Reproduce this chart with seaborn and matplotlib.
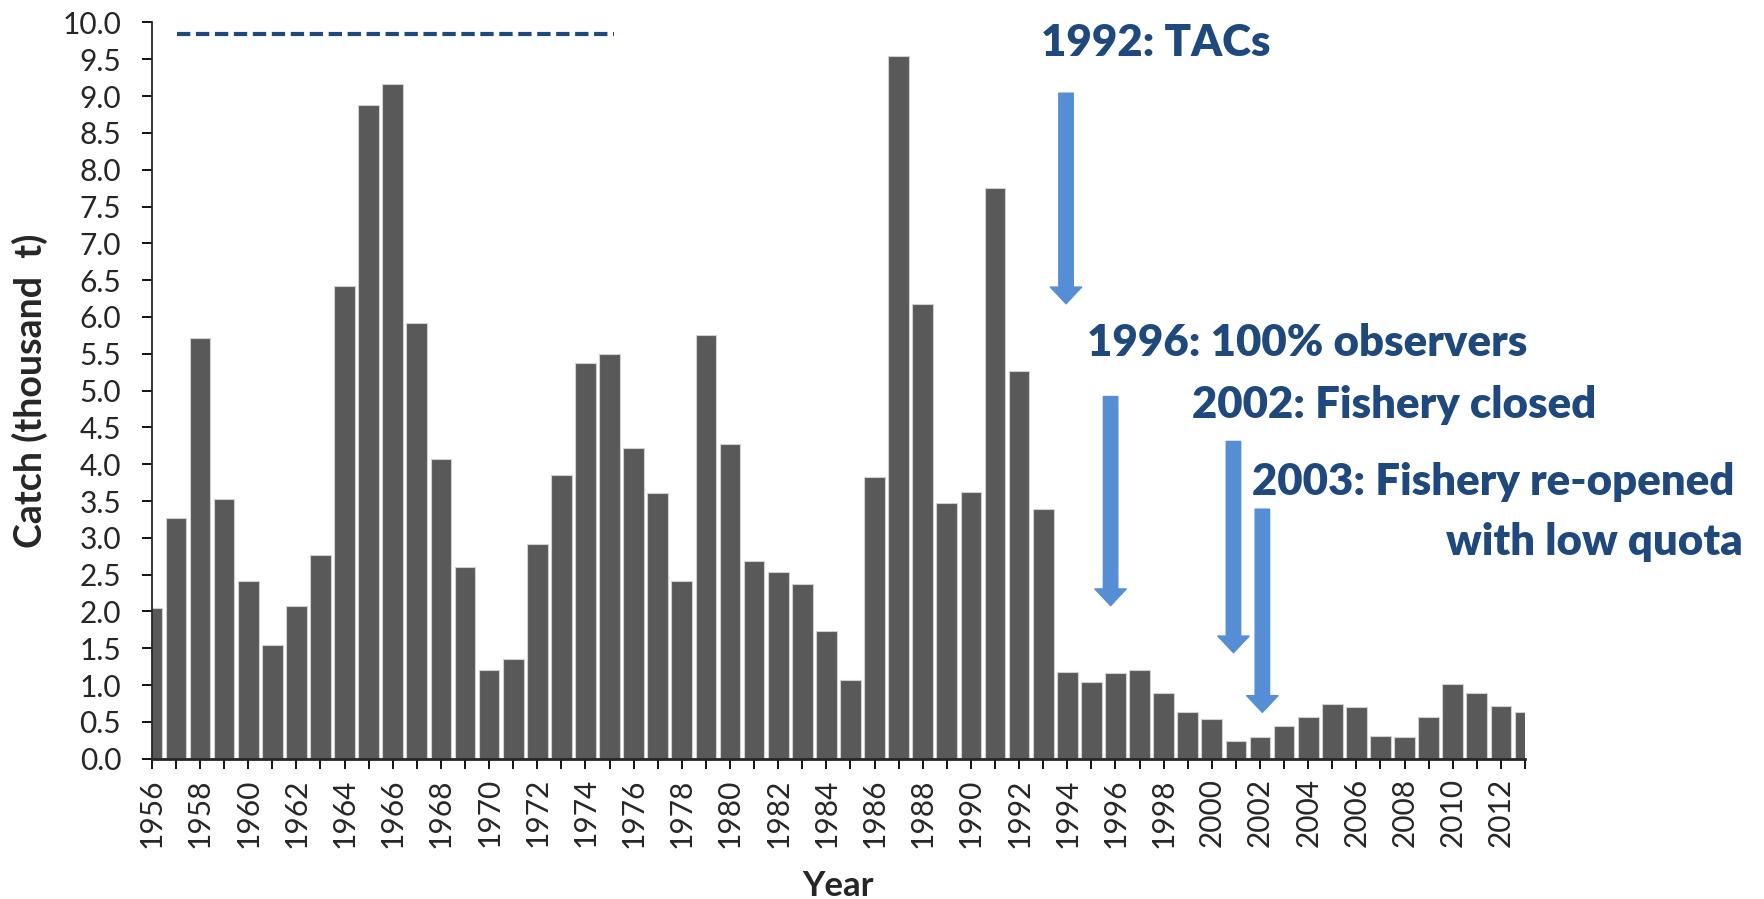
import numpy as np
import pandas as pd
import seaborn as sns
import matplotlib.pyplot as plt

#catch data, thousand tonnes
years = list(range(1956, 2014))
catch = [2.05, 3.27, 5.72, 3.53, 2.42, 1.54, 2.08, 2.77, 6.42, 8.88,
         9.16, 5.92, 4.07, 2.60, 1.21, 1.36, 2.92, 3.85, 5.38, 5.50,
         4.22, 3.61, 2.42, 5.75, 4.28, 2.69, 2.54, 2.37, 1.74, 1.07,
         3.82, 9.54, 6.18, 3.47, 3.62, 7.75, 5.26, 3.39, 1.18, 1.04,
         1.16, 1.21, 0.89, 0.63, 0.54, 0.24, 0.29, 0.45, 0.57, 0.75,
         0.70, 0.31, 0.29, 0.57, 1.01, 0.89, 0.72, 0.63]

#event notes and where their arrows sit (x is bar index, y in thousand t)
note_text = ['1992: TACs', '1996: 100% observers', '2002: Fishery closed', '2003: Fishery re-opened']
note_x = [36.9, 38.84, 43.18, 45.66]
note_y = [9.72, 5.64, 4.80, 3.76]
arrow_x = [37.95, 39.8, 44.9, 46.1]
arrow_top = [9.04, 4.92, 4.31, 3.39]
arrow_tip = [6.18, 2.08, 1.44, 0.63]

df = pd.DataFrame({'Year': years, 'Catch': catch})

sns.set_style('ticks')
plt.rcParams['font.family'] = ['Lato', 'DejaVu Sans']

fig = plt.figure(figsize=(17.65, 8.99), dpi=100)
ax = fig.add_axes([0.086, 0.156, 0.778, 0.819])

sns.barplot(data=df, x='Year', y='Catch', color='#595959', saturation=1,
            width=0.86, edgecolor='#d0d0d0', linewidth=0.8, ax=ax)

#axis cut at the centre of the first and last bar, like the original
ax.set_xlim(0, len(years) - 1)
ax.set_ylim(0, 10)
ax.set_yticks(np.arange(0, 10.01, 0.5))
ax.set_yticklabels([f'{v:.1f}' for v in np.arange(0, 10.01, 0.5)], fontsize=21.5)
ax.set_xticks(range(0, len(years), 2))
ax.set_xticklabels([str(y) for y in years[::2]], rotation=90, fontsize=21.5)
ax.set_xticks(range(1, len(years), 2), minor=True)
ax.tick_params(axis='both', which='both', direction='out', length=7, width=1.3, color='black')
ax.tick_params(axis='y', pad=15)
ax.tick_params(axis='x', pad=7)

for s in ['top', 'right']:
    ax.spines[s].set_visible(False)
ax.spines['left'].set_linewidth(1.3)
ax.spines['bottom'].set_linewidth(2)

ax.set_xlabel('Year', fontsize=25, fontweight='bold', labelpad=16)
ax.set_ylabel('Catch (thousand  t)', fontsize=27, fontweight='bold', labelpad=10)

#dashed line at the top left
ax.plot([1.03, 19.2], [9.85, 9.85], color='#1F497D', lw=3, linestyle=(0, (3.2, 1.35)), clip_on=False)

#annotations with arrows
for i in range(len(note_text)):
    ax.text(note_x[i], note_y[i], note_text[i], fontsize=31.5, fontweight='heavy',
            color='#1F497D', ha='left', va='center', clip_on=False)
    ax.annotate('', xy=(arrow_x[i], arrow_tip[i]), xytext=(arrow_x[i], arrow_top[i]),
                arrowprops=dict(arrowstyle='simple,head_length=0.6,head_width=1.13,tail_width=0.52',
                                color='#558ED5', mutation_scale=20, shrinkA=0, shrinkB=0),
                annotation_clip=False)
ax.text(66.06, 2.94, 'with low quota', fontsize=31.5, fontweight='heavy',
        color='#1F497D', ha='right', va='center', clip_on=False)

plt.savefig('out.png', dpi=100)
